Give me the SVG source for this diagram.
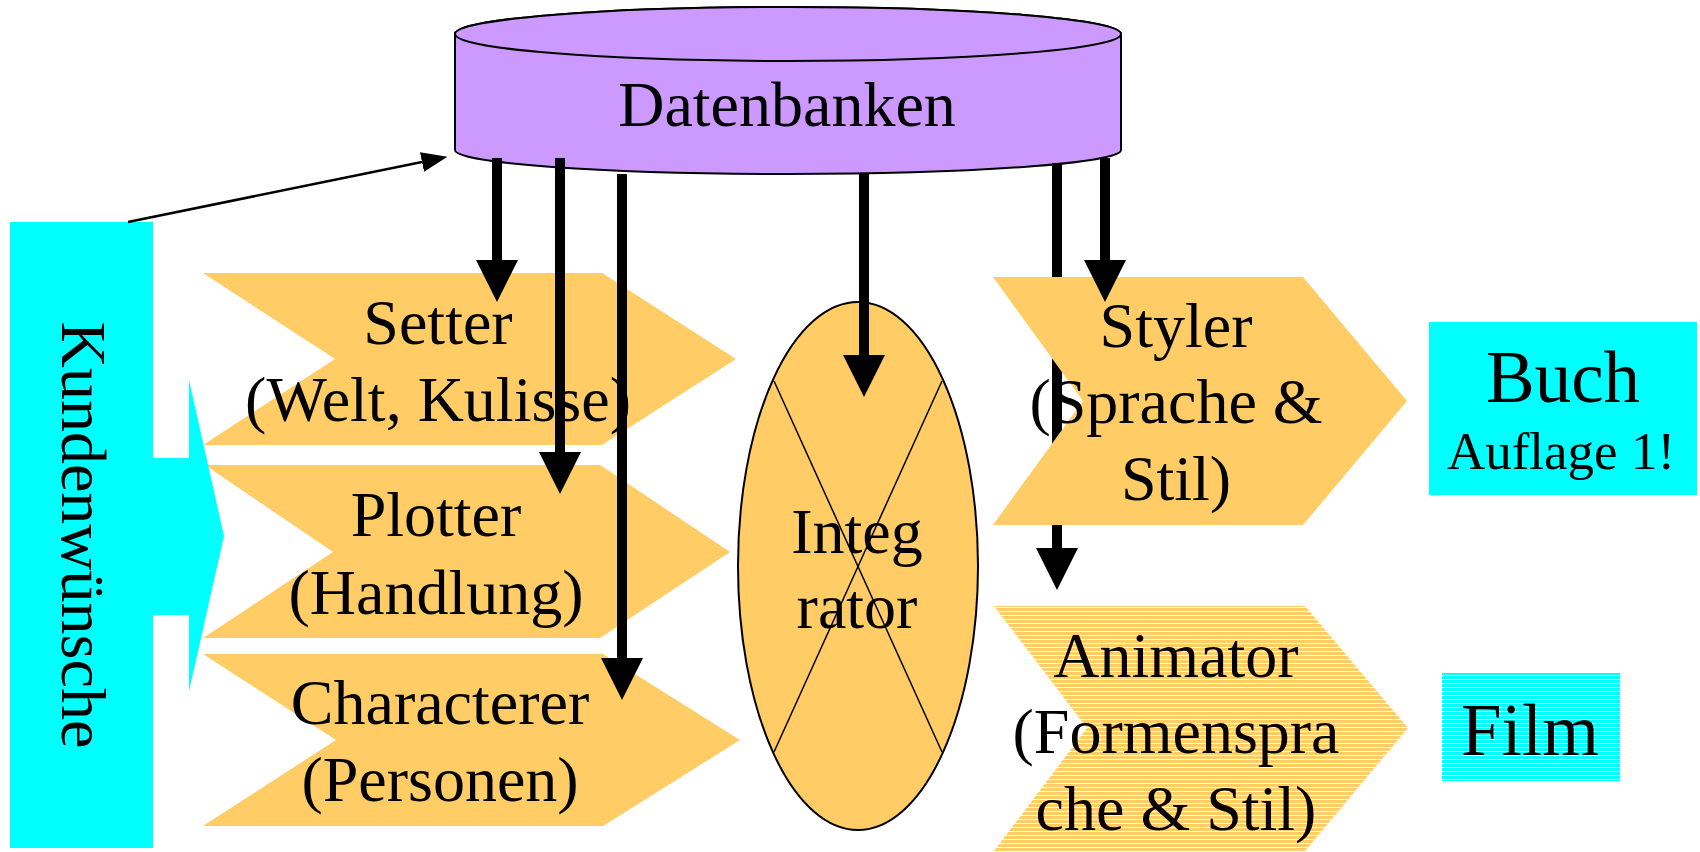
<svg xmlns="http://www.w3.org/2000/svg" width="1700" height="852" viewBox="0 0 1700 852">
<style>
  text { font-family: "Liberation Serif", "Times New Roman", serif; fill: #000; text-anchor: middle; }
  .t64 { font-size: 64px; }
  .orange { fill: #FFCC66; }
  .cyan { fill: #00FFFF; }
  .outline { stroke: #000; stroke-width: 2; }
  .thick { stroke: #000; stroke-width: 10; fill: none; }
  .thin { stroke: #000; stroke-width: 2.5; fill: none; }
</style>
<defs>
  <marker id="bigHead" markerUnits="userSpaceOnUse" markerWidth="42" markerHeight="42" refX="0" refY="21" orient="auto" viewBox="0 0 42 42">
    <path d="M0,0 L42,21 L0,42 Z" fill="#000"/>
  </marker>
  <marker id="smallHead" markerUnits="userSpaceOnUse" markerWidth="26" markerHeight="20" refX="0" refY="10" orient="auto" viewBox="0 0 26 20">
    <path d="M0,0 L26,10 L0,20 Z" fill="#000"/>
  </marker>
  <pattern id="orangeStripes" patternUnits="userSpaceOnUse" width="20" height="4">
    <rect width="20" height="4" fill="#FFCC66"/>
    <rect y="3" width="20" height="1" fill="#FFFFFF"/>
  </pattern>
  <pattern id="cyanStripes" patternUnits="userSpaceOnUse" width="20" height="4">
    <rect width="20" height="4" fill="#00FFFF"/>
    <rect y="3" width="20" height="1" fill="#FFFFFF"/>
  </pattern>
  <mask id="behindStyler" maskUnits="userSpaceOnUse" x="0" y="0" width="1700" height="852">
    <rect width="1700" height="852" fill="#fff"/>
    <polygon points="993,277 1303,277 1407,401 1303,525 993,525 1083,401" fill="#000"/>
  </mask>
</defs>

<g id="datenbanken">
  <path d="M455,34 L455,150 A333,24 0 0 0 1121,150 L1121,34 A333,27 0 0 0 455,34 Z" fill="#CC99FF" class="outline"/>
  <ellipse cx="788" cy="34" rx="333" ry="27" fill="#CC99FF" class="outline"/>
  <text class="t64" x="787" y="126">Datenbanken</text>
</g>

<g id="setter">
  <polygon class="orange" points="203,273 602,273 736,359 602,445 203,445 335,359"/>
  <text class="t64" x="438" y="344">Setter</text>
  <text class="t64" x="438" y="421">(Welt, Kulisse)</text>
</g>

<g id="plotter">
  <polygon class="orange" points="205,465 600,465 730,552 600,638 203,638 333,552"/>
  <text class="t64" x="436" y="536">Plotter</text>
  <text class="t64" x="436" y="614">(Handlung)</text>
</g>

<g id="characterer">
  <polygon class="orange" points="203,654 603,654 740,740 603,826 203,826 336,740"/>
  <text class="t64" x="440" y="724">Characterer</text>
  <text class="t64" x="440" y="801">(Personen)</text>
</g>

<g id="kundenwuensche">
  <polygon class="cyan" points="10,222 153,222 153,458 189,458 189,380 224,536 189,691 189,615 153,615 153,848 10,848"/>
  <text class="t64" transform="translate(62,535) rotate(90)" x="0" y="0">Kundenwünsche</text>
</g>

<g id="integrator">
  <ellipse cx="858" cy="566" rx="120" ry="264" class="orange outline"/>
  <line x1="774" y1="381" x2="942" y2="752" stroke="#000" stroke-width="1.5"/>
  <line x1="942" y1="381" x2="774" y2="752" stroke="#000" stroke-width="1.5"/>
  <text class="t64" x="857" y="553">Integ</text>
  <text class="t64" x="857" y="628">rator</text>
</g>

<g id="styler">
  <polygon class="orange" points="993,277 1303,277 1407,401 1303,525 993,525 1083,401"/>
  <text class="t64" x="1176" y="347">Styler</text>
  <text class="t64" x="1176" y="423">(Sprache &amp;</text>
  <text class="t64" x="1176" y="500">Stil)</text>
</g>

<g id="animator">
  <polygon fill="url(#orangeStripes)" points="994,606 1305,606 1408,728 1305,851 994,851 1087,728"/>
  <text class="t64" x="1176" y="677">Animator</text>
  <text class="t64" x="1176" y="753">(Formenspra</text>
  <text class="t64" x="1176" y="830">che &amp; Stil)</text>
</g>

<g id="buch">
  <rect class="cyan" x="1429" y="322" width="268" height="173"/>
  <text x="1563" y="402" font-size="73">Buch</text>
  <text x="1561" y="469" font-size="53">Auflage 1!</text>
</g>

<g id="film">
  <rect fill="url(#cyanStripes)" x="1442" y="673" width="178" height="108"/>
  <text x="1530" y="755" font-size="73">Film</text>
</g>

<g id="connectors">
  <line class="thin" x1="128" y1="222" x2="422" y2="162" marker-end="url(#smallHead)"/>
  <line class="thick" x1="497" y1="158" x2="497" y2="260" marker-end="url(#bigHead)"/>
  <line class="thick" x1="560" y1="158" x2="560" y2="452" marker-end="url(#bigHead)"/>
  <line class="thick" x1="622" y1="174" x2="622" y2="658" marker-end="url(#bigHead)"/>
  <line class="thick" x1="864" y1="174" x2="864" y2="355" marker-end="url(#bigHead)"/>
  <line class="thick" x1="1057" y1="163" x2="1057" y2="548" marker-end="url(#bigHead)" mask="url(#behindStyler)"/>
  <line class="thick" x1="1105" y1="158" x2="1105" y2="260" marker-end="url(#bigHead)"/>
</g>
</svg>
